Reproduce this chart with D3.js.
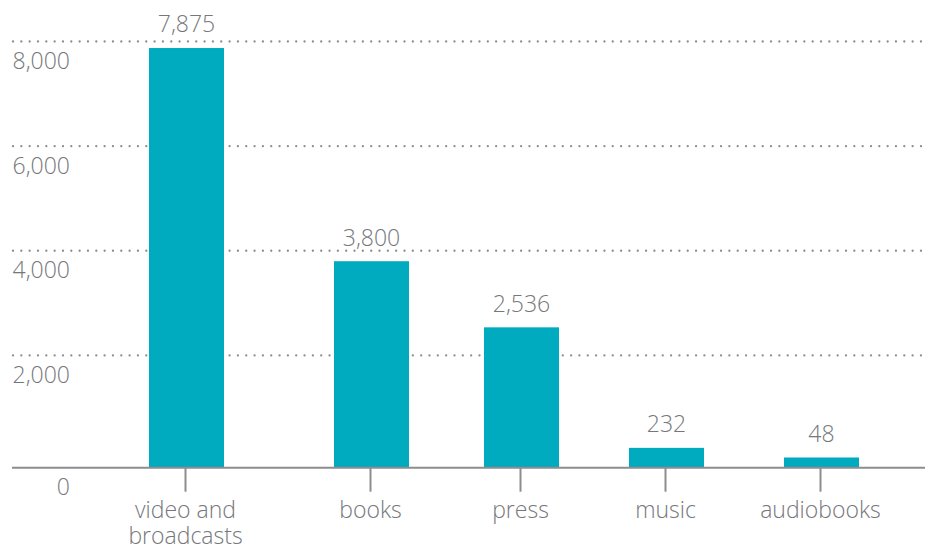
<!DOCTYPE html>
<html>
<head>
<meta charset="utf-8">
<script src="https://cdn.jsdelivr.net/npm/d3@7"></script>
<style>
  html, body { margin: 0; padding: 0; background: #fff; }
  svg { display: block; font-family: "Open Sans", sans-serif; font-weight: 300; }
</style>
</head>
<body>
<svg id="chart" width="938" height="548"></svg>
<script>
// Data
const categories = ["video and\nbroadcasts", "books", "press", "music", "audiobooks"];
const values = [7875, 3800, 2536, 232, 48];
const yTicks = [0, 2000, 4000, 6000, 8000];

// Layout
const left = 12, right = 926;
const baseY = 467.7;
const barW = 75;
const barColor = "#00aabf";
const textColor = "#76777b";
const lineColor = "#8c8d91";
const fontSize = 23;
const fmt = d3.format(",");

const svg = d3.select("#chart");

const y = d3.scaleLinear().domain([0, 8000]).range([460, 41.5]);
const x = d3.scaleOrdinal().domain(categories).range([186.5, 371.5, 521.5, 666.5, 821.5]);

// Dotted gridlines
svg.append("g").selectAll("line")
  .data(yTicks.filter(t => t > 0))
  .join("line")
  .attr("x1", left + 1).attr("x2", right + 2)
  .attr("y1", d => y(d)).attr("y2", d => y(d))
  .attr("stroke", lineColor)
  .attr("stroke-width", 2.3)
  .attr("stroke-linecap", "round")
  .attr("stroke-dasharray", "0,8.33");

// Y labels (sit below their line)
svg.append("g").selectAll("text")
  .data(yTicks)
  .join("text")
  .attr("x", 70)
  .attr("y", d => (d === 0 ? baseY : y(d)) + 27.5)
  .attr("text-anchor", "end")
  .attr("font-size", fontSize)
  .attr("fill", textColor)
  .text(d => fmt(d));

// Bars
svg.append("g").selectAll("rect")
  .data(values)
  .join("rect")
  .attr("x", (d, i) => x(categories[i]) - barW / 2)
  .attr("width", barW)
  .attr("y", d => y(d))
  .attr("height", d => baseY - y(d))
  .attr("fill", barColor);

// Value labels
svg.append("g").selectAll("text")
  .data(values)
  .join("text")
  .attr("x", (d, i) => x(categories[i]))
  .attr("y", d => y(d) - 15.7)
  .attr("text-anchor", "middle")
  .attr("font-size", fontSize)
  .attr("fill", textColor)
  .text(d => fmt(d));

// Baseline
svg.append("line")
  .attr("x1", left).attr("x2", right - 1)
  .attr("y1", baseY).attr("y2", baseY)
  .attr("stroke", lineColor)
  .attr("stroke-width", 2);

// X ticks and category labels
const xg = svg.append("g").selectAll("g")
  .data(categories)
  .join("g")
  .attr("transform", d => `translate(${x(d) - 1},0)`);

xg.append("line")
  .attr("y1", baseY).attr("y2", baseY + 24)
  .attr("stroke", lineColor)
  .attr("stroke-width", 2);

xg.append("text")
  .attr("text-anchor", "middle")
  .attr("font-size", fontSize)
  .attr("fill", textColor)
  .selectAll("tspan")
  .data(d => d.split("\n"))
  .join("tspan")
  .attr("x", 0)
  .attr("y", (d, i) => baseY + 50.3 + i * 25.6)
  .text(d => d);
</script>
</body>
</html>
